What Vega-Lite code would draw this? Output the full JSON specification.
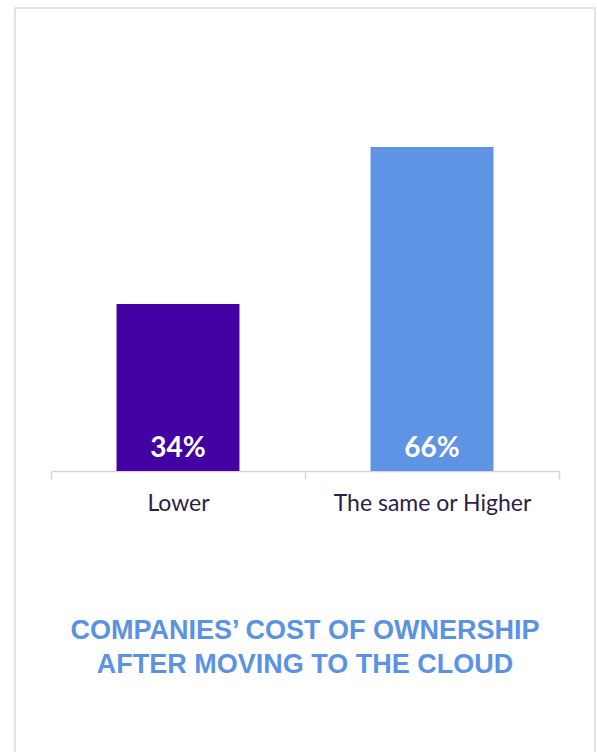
{
  "$schema": "https://vega.github.io/schema/vega-lite/v6.json",
  "autosize": {"type": "none"},
  "padding": {"left": 15, "top": 8, "right": 2, "bottom": 0},
  "width": 580,
  "height": 780,
  "background": "white",
  "title": {
    "text": ["COMPANIES’ COST OF OWNERSHIP", "AFTER MOVING TO THE CLOUD"],
    "orient": "top",
    "anchor": "middle",
    "frame": "group",
    "offset": -692,
    "baseline": "alphabetic",
    "lineHeight": 34,
    "font": "Liberation Sans",
    "fontSize": 27,
    "fontWeight": "bold",
    "color": "#5b93e2"
  },
  "data": {
    "values": [
      {"answer": "Lower", "share": 34, "label": "34%"},
      {"answer": "The same or Higher", "share": 66, "label": "66%"}
    ]
  },
  "encoding": {
    "x": {
      "field": "answer",
      "type": "nominal",
      "sort": null,
      "scale": {"range": [36, 544], "paddingInner": 0, "paddingOuter": 0},
      "axis": {
        "title": null,
        "orient": "bottom",
        "offset": -317,
        "labelAngle": 0,
        "labelFont": "Lato",
        "labelFontSize": 23,
        "labelColor": "#2b1e48",
        "labelPadding": 13,
        "labelLimit": 0,
        "tickBand": "extent",
        "tickSize": 8,
        "tickColor": "#d6d6d6",
        "tickWidth": 1.5,
        "domainColor": "#d6d6d6",
        "domainWidth": 1.5
      }
    },
    "y": {
      "field": "share",
      "type": "quantitative",
      "scale": {"domain": [0, 66], "range": [463, 139]},
      "axis": null
    }
  },
  "layer": [
    {
      "mark": {"type": "bar", "width": {"band": 0.484}},
      "encoding": {
        "color": {
          "field": "answer",
          "type": "nominal",
          "sort": null,
          "scale": {"range": ["#4300a3", "#5e94e3"]},
          "legend": null
        }
      }
    },
    {
      "mark": {
        "type": "text",
        "baseline": "alphabetic",
        "dy": -14,
        "font": "Lato",
        "fontSize": 28,
        "fontWeight": "bold",
        "color": "white"
      },
      "encoding": {
        "y": {"datum": 0},
        "text": {"field": "label"}
      }
    }
  ],
  "config": {
    "view": {"stroke": "#dcdcdc", "strokeWidth": 1.5}
  }
}
